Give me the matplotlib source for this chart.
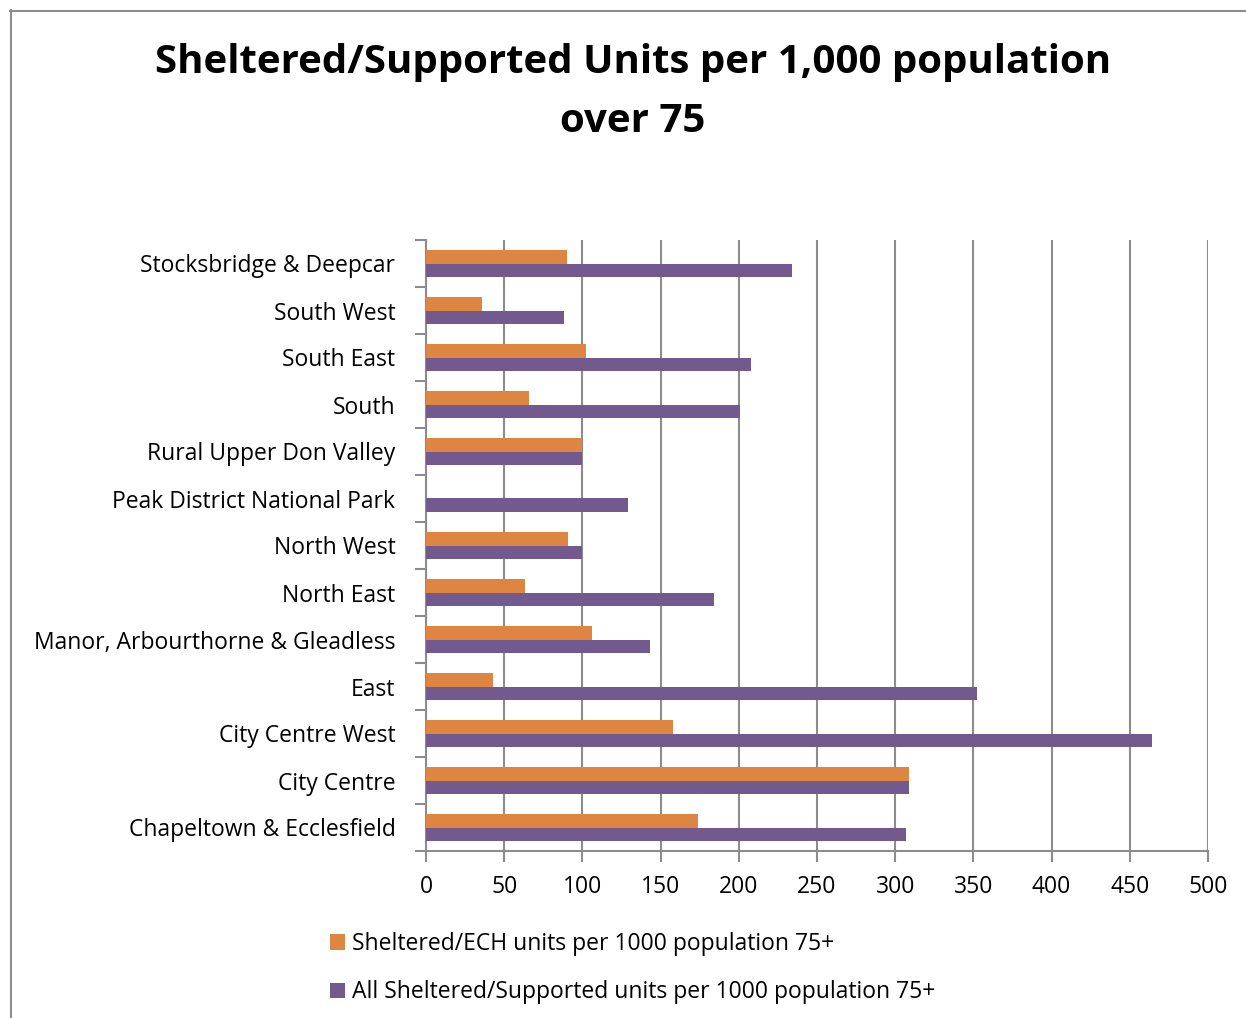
import matplotlib.pyplot as plt
from matplotlib.lines import Line2D
import numpy as np

categories = ['Chapeltown & Ecclesfield', 'City Centre', 'City Centre West', 'East',
              'Manor, Arbourthorne & Gleadless', 'North East', 'North West',
              'Peak District National Park', 'Rural Upper Don Valley', 'South',
              'South East', 'South West', 'Stocksbridge & Deepcar']
sheltered_ech = [174, 309, 158, 43, 106, 63, 91, 0, 100, 66, 102, 36, 90]
all_sheltered = [307, 309, 464, 352, 143, 184, 100, 129, 100, 201, 208, 88, 234]
xticks = [0, 50, 100, 150, 200, 250, 300, 350, 400, 450, 500]

orange = '#DD8541'
purple = '#725A8F'
grid_col = '#8C8C8C'

plt.rcParams['font.family'] = ['Open Sans', 'DejaVu Sans']

fig = plt.figure(figsize=(12.46, 10.18), dpi=100)
ax = fig.add_axes([426 / 1246, 1 - 851 / 1018, 782 / 1246, 611 / 1018])

y = np.arange(len(categories))
h = 0.28
ax.barh(y + 0.14, sheltered_ech, height=h, color=orange, linewidth=0,
        label='Sheltered/ECH units per 1000 population 75+', zorder=3)
ax.barh(y - 0.14, all_sheltered, height=h, color=purple, linewidth=0,
        label='All Sheltered/Supported units per 1000 population 75+', zorder=3)

ax.set_xlim(0, 500)
ax.set_ylim(-0.5, len(categories) - 0.5)
ax.set_xticks(xticks)
ax.set_xticklabels([str(t) for t in xticks], fontsize=16.5)
ax.set_yticks(y)
ax.set_yticklabels(categories, fontsize=16.5, va='center_baseline')
ax.tick_params(axis='y', length=0, pad=22)
ax.set_yticks(np.arange(-0.5, len(categories), 1), minor=True)
ax.tick_params(axis='y', which='minor', length=8, color=grid_col, width=1.5)
ax.tick_params(axis='x', length=8, color=grid_col, width=1.5, pad=9)

ax.grid(axis='x', color=grid_col, linewidth=1.5, zorder=0)
ax.set_axisbelow(True)
for s in ['top', 'right']:
    ax.spines[s].set_visible(False)
for s in ['left', 'bottom']:
    ax.spines[s].set_color(grid_col)
    ax.spines[s].set_linewidth(1.5)

fig.text(633 / 1246, 1 - 63 / 1018, 'Sheltered/Supported Units per 1,000 population',
         ha='center', va='center', fontsize=29, fontweight='bold')
fig.text(633 / 1246, 1 - 121 / 1018, 'over 75',
         ha='center', va='center', fontsize=29, fontweight='bold')

fig.legend(loc='upper left', bbox_to_anchor=(321 / 1246, 1 - 923 / 1018), frameon=False,
           fontsize=16.5, handlelength=0.65, handleheight=0.65, handletextpad=0.3,
           labelspacing=1.05, borderaxespad=0)

# chart frame (left and top edges)
fig.add_artist(Line2D([10.5 / 1246, 10.5 / 1246], [0, 1 - 10 / 1018], color='#8C8C8C', lw=1.5))
fig.add_artist(Line2D([10 / 1246, 1], [1 - 10.5 / 1018, 1 - 10.5 / 1018], color='#8C8C8C', lw=1.5))

fig.savefig('out.png', dpi=100)
